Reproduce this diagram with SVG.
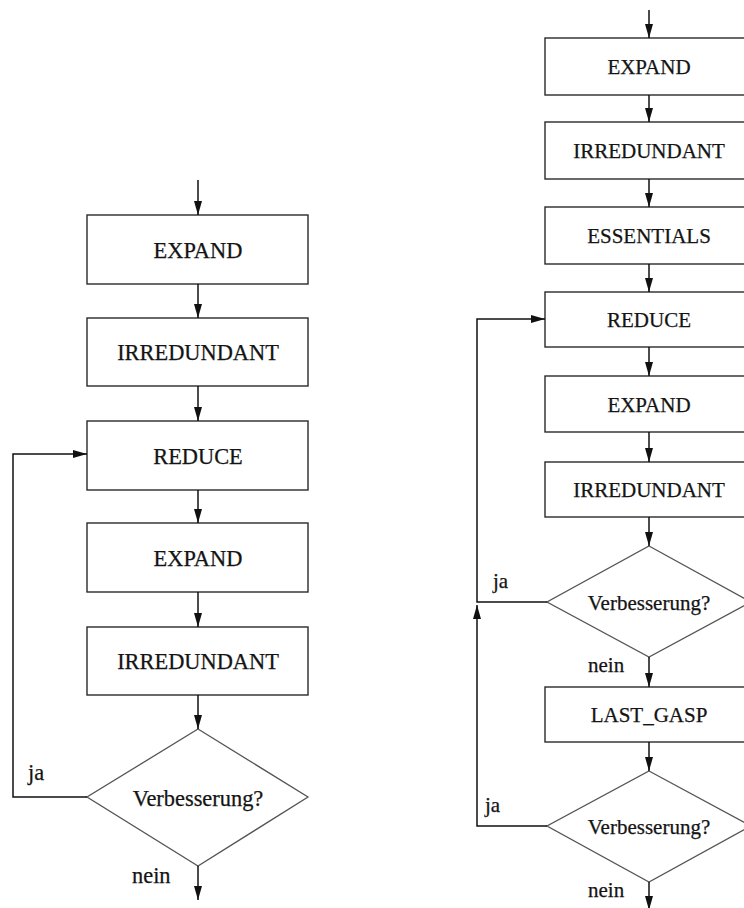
<svg xmlns="http://www.w3.org/2000/svg" width="744" height="908" viewBox="0 0 744 908">
  <style>
    .box { fill: #fff; stroke: #2a2a2a; stroke-width: 1.4; }
    .dia { fill: #fff; stroke: #555; stroke-width: 1.3; }
    .edge { fill: none; stroke: #111; stroke-width: 1.5; }
    text { font-family: "Liberation Serif", "Times New Roman", serif; fill: #141414; stroke: #141414; stroke-width: 0.25; }
    .l { font-size: 22.4px; }
    .r { font-size: 21px; }
    .c { text-anchor: middle; }
  </style>
  <defs>
    <marker id="arrow" viewBox="0 0 14 8" refX="14" refY="4" markerWidth="14" markerHeight="8" markerUnits="userSpaceOnUse" orient="auto">
      <path d="M0,0 L14,4 L0,8 Z" fill="#111"/>
    </marker>
  </defs>

  <!-- Left flow: basic ESPRESSO loop -->
  <g id="left-expand1"><rect class="box" x="87" y="215" width="221" height="69"/><text class="l c" x="198" y="258">EXPAND</text></g>
  <g id="left-irred1"><rect class="box" x="87" y="318" width="221" height="68"/><text class="l c" x="198" y="360">IRREDUNDANT</text></g>
  <g id="left-reduce"><rect class="box" x="87" y="421" width="221" height="69"/><text class="l c" x="198" y="464">REDUCE</text></g>
  <g id="left-expand2"><rect class="box" x="87" y="523" width="221" height="69"/><text class="l c" x="198" y="566">EXPAND</text></g>
  <g id="left-irred2"><rect class="box" x="87" y="627" width="221" height="68"/><text class="l c" x="198" y="669">IRREDUNDANT</text></g>
  <g id="left-check"><polygon class="dia" points="198,729 308,797 198,866 87,797"/><text class="l c" x="198" y="806">Verbesserung?</text></g>

  <!-- Right flow: extended ESPRESSO loop -->
  <g id="right-expand1"><rect class="box" x="545" y="38" width="208" height="57"/><text class="r c" x="649" y="74">EXPAND</text></g>
  <g id="right-irred1"><rect class="box" x="545" y="122" width="208" height="57"/><text class="r c" x="649" y="158">IRREDUNDANT</text></g>
  <g id="right-essentials"><rect class="box" x="545" y="207" width="208" height="57"/><text class="r c" x="649" y="243">ESSENTIALS</text></g>
  <g id="right-reduce"><rect class="box" x="545" y="292" width="208" height="55"/><text class="r c" x="649" y="327">REDUCE</text></g>
  <g id="right-expand2"><rect class="box" x="545" y="376" width="208" height="56"/><text class="r c" x="649" y="412">EXPAND</text></g>
  <g id="right-irred2"><rect class="box" x="545" y="462" width="208" height="55"/><text class="r c" x="649" y="497">IRREDUNDANT</text></g>
  <g id="right-check1"><polygon class="dia" points="649,546 751,602 649,657 547,602"/><text class="r c" x="649" y="610">Verbesserung?</text></g>
  <g id="right-lastgasp"><rect class="box" x="545" y="687" width="208" height="55"/><text class="r c" x="649" y="722">LAST_GASP</text></g>
  <g id="right-check2"><polygon class="dia" points="649,771 751,826 649,882 547,826"/><text class="r c" x="649" y="834">Verbesserung?</text></g>

  <!-- Connectors -->
  <g id="connectors">
    <path class="edge" d="M198,180 V215" marker-end="url(#arrow)"/>
    <path class="edge" d="M198,284 V318" marker-end="url(#arrow)"/>
    <path class="edge" d="M198,386 V421" marker-end="url(#arrow)"/>
    <path class="edge" d="M198,490 V523" marker-end="url(#arrow)"/>
    <path class="edge" d="M198,592 V627" marker-end="url(#arrow)"/>
    <path class="edge" d="M198,695 V729" marker-end="url(#arrow)"/>
    <path class="edge" d="M198,866 V900" marker-end="url(#arrow)"/>
    <path class="edge" d="M87,797 H13 V454 H87" marker-end="url(#arrow)"/>

    <path class="edge" d="M649,10 V38" marker-end="url(#arrow)"/>
    <path class="edge" d="M649,95 V122" marker-end="url(#arrow)"/>
    <path class="edge" d="M649,179 V207" marker-end="url(#arrow)"/>
    <path class="edge" d="M649,264 V292" marker-end="url(#arrow)"/>
    <path class="edge" d="M649,347 V376" marker-end="url(#arrow)"/>
    <path class="edge" d="M649,432 V462" marker-end="url(#arrow)"/>
    <path class="edge" d="M649,517 V546" marker-end="url(#arrow)"/>
    <path class="edge" d="M649,657 V687" marker-end="url(#arrow)"/>
    <path class="edge" d="M649,742 V771" marker-end="url(#arrow)"/>
    <path class="edge" d="M649,882 V910" marker-end="url(#arrow)"/>
    <path class="edge" d="M547,602 H477 V319 H545" marker-end="url(#arrow)"/>
    <path class="edge" d="M547,826 H477 V605" marker-end="url(#arrow)"/>
  </g>

  <!-- Branch labels -->
  <g id="labels">
    <text class="l" x="28" y="780">ja</text>
    <text class="l" x="132" y="883">nein</text>
    <text class="r" x="493" y="588">ja</text>
    <text class="r" x="588" y="672">nein</text>
    <text class="r" x="485" y="812">ja</text>
    <text class="r" x="588" y="897">nein</text>
  </g>
</svg>
